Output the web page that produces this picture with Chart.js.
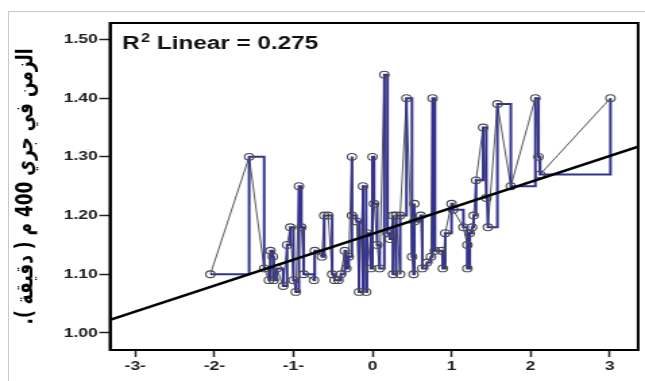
<!DOCTYPE html>
<html lang="ar">
<head>
<meta charset="UTF-8" />
<title>R2 Linear scatter</title>
<script src="https://cdn.jsdelivr.net/npm/chart.js"></script>
<style>
  body { margin: 0; background: #fff; }
  #frame {
    position: absolute; left: 8px; top: 11px;
    width: 700px; height: 420px;
    border: 1px solid #c8c8c8;
  }
  /* the source picture is stretched sideways, so draw narrow and stretch */
  #chart { position: absolute; left: 0; top: 0; width: 645px; height: 381px; }
</style>
</head>
<body>
<div id="frame"></div>
<canvas id="chart" width="478" height="381" style="width:645px;height:381px"></canvas>
<script>
// points, sorted by x
const xValues = [
  -2.05, -1.56, -1.37, -1.31, -1.29, -1.26, -1.25, -1.21, -1.13, -1.08,
  -1.04, -1.00, -0.97, -0.93, -0.90, -0.87, -0.74, -0.73, -0.64, -0.61,
  -0.56, -0.51, -0.48, -0.43, -0.40, -0.35, -0.33, -0.30, -0.26, -0.26,
  -0.20, -0.17, -0.12, -0.08, -0.07, -0.02, 0.00, 0.02, 0.06, 0.09,
  0.15, 0.19, 0.22, 0.26, 0.26, 0.30, 0.35, 0.35, 0.43, 0.50,
  0.52, 0.53, 0.53, 0.61, 0.63, 0.69, 0.74, 0.76, 0.79, 0.87,
  0.89, 0.92, 1.00, 1.02, 1.15, 1.20, 1.20, 1.23, 1.26, 1.28,
  1.31, 1.40, 1.44, 1.46, 1.58, 1.75, 2.06, 2.10, 2.12, 3.01
];
const yValues = [
  1.10, 1.30, 1.11, 1.09, 1.14, 1.13, 1.09, 1.11, 1.08, 1.15,
  1.18, 1.09, 1.07, 1.25, 1.18, 1.10, 1.09, 1.14, 1.13, 1.20,
  1.20, 1.10, 1.09, 1.09, 1.10, 1.14, 1.11, 1.13, 1.30, 1.20,
  1.19, 1.07, 1.25, 1.07, 1.17, 1.11, 1.30, 1.22, 1.15, 1.11,
  1.44, 1.17, 1.16, 1.20, 1.10, 1.20, 1.10, 1.20, 1.40, 1.13,
  1.10, 1.22, 1.19, 1.20, 1.11, 1.12, 1.13, 1.40, 1.14, 1.14,
  1.11, 1.17, 1.22, 1.21, 1.18, 1.15, 1.11, 1.17, 1.18, 1.20,
  1.26, 1.35, 1.23, 1.18, 1.39, 1.25, 1.40, 1.30, 1.27, 1.40
];

// linear fit
const fitSlope = 0.0442;
const fitIntercept = 1.169;
const rSquared = '0.275';

// axes
const xMin = -3.32, xMax = 3.36;
const yMin = 0.971, yMax = 1.528;
const xTicks = [-3, -2, -1, 0, 1, 2, 3];
const yTicks = [1.00, 1.10, 1.20, 1.30, 1.40, 1.50];
const yTitle = 'الزمن في جري 400 م ( دقيقة ).';

const points = xValues.map((x, i) => ({ x: x, y: yValues[i] }));
const fitLine = [xMin, xMax].map(x => ({ x: x, y: fitIntercept + fitSlope * x }));

const FONT = '"Liberation Sans", Arial, sans-serif';

// box around plot + R2 label
const framePlugin = {
  id: 'framePlugin',
  afterDraw(chart) {
    const { ctx, chartArea: a } = chart;
    ctx.save();
    ctx.strokeStyle = '#000';
    ctx.lineWidth = 2;
    ctx.strokeRect(a.left, a.top, a.right - a.left, a.bottom - a.top);

    ctx.fillStyle = '#111';
    ctx.textBaseline = 'alphabetic';
    ctx.font = 'bold 18px ' + FONT;
    let x = a.left + 9;
    const base = a.top + 26;
    ctx.fillText('R', x, base);
    x += ctx.measureText('R').width + 1;
    ctx.font = 'bold 12px ' + FONT;
    ctx.fillText('2', x, base - 7);
    x += ctx.measureText('2').width;
    ctx.font = 'bold 18px ' + FONT;
    ctx.fillText(' Linear = ' + rSquared, x, base);
    ctx.restore();
  }
};

// first dataset is painted last (on top)
new Chart(document.getElementById('chart'), {
  type: 'line',
  data: {
    datasets: [
      {
        label: 'fit',
        data: fitLine,
        borderColor: '#000',
        borderWidth: 2.5,
        pointRadius: 0
      },
      {
        label: 'circles',
        data: points,
        showLine: false,
        pointRadius: 3.4,
        pointBorderColor: '#4a4a4a',
        pointBorderWidth: 1.1,
        pointBackgroundColor: 'rgba(0,0,0,0)'
      },
      {
        label: 'step',
        data: points,
        borderColor: '#33338f',
        borderWidth: 2,
        pointRadius: 0,
        stepped: 'before'
      },
      {
        label: 'straight',
        data: points,
        borderColor: '#444',
        borderWidth: 0.9,
        pointRadius: 0
      }
    ]
  },
  options: {
    responsive: false,
    animation: false,
    devicePixelRatio: 1,
    layout: { padding: { top: 23, right: 3.6, left: 0, bottom: 0 } },
    plugins: { legend: { display: false }, tooltip: { enabled: false } },
    scales: {
      x: {
        type: 'linear',
        min: xMin,
        max: xMax,
        afterBuildTicks: s => { s.ticks = xTicks.map(v => ({ value: v })); },
        afterFit: s => { s.height = 31; },
        border: { color: '#000', width: 2 },
        grid: { drawOnChartArea: false, drawTicks: true, tickLength: 7, tickColor: '#222', tickWidth: 1.5 },
        ticks: {
          padding: 2,
          color: '#222',
          font: { family: FONT, size: 13, weight: 'bold' },
          callback: v => v < 0 ? '-' + Math.abs(v) + '-' : String(v)
        }
      },
      y: {
        type: 'linear',
        min: yMin,
        max: yMax,
        afterBuildTicks: s => { s.ticks = yTicks.map(v => ({ value: v })); },
        afterFit: s => { s.width = 81.5; },
        border: { color: '#000', width: 2 },
        grid: { drawOnChartArea: false, drawTicks: true, tickLength: 8, tickColor: '#222', tickWidth: 1.5 },
        ticks: {
          padding: 1,
          color: '#222',
          font: { family: FONT, size: 13, weight: 'bold' },
          callback: v => Number(v).toFixed(2)
        },
        title: {
          display: true,
          text: '\u202B' + yTitle + '\u202C',
          color: '#000',
          padding: { top: 9, bottom: 0 },
          font: { family: '"DejaVu Sans", ' + FONT, size: 17, weight: 'bold' }
        }
      }
    }
  },
  plugins: [framePlugin]
});
</script>
</body>
</html>
